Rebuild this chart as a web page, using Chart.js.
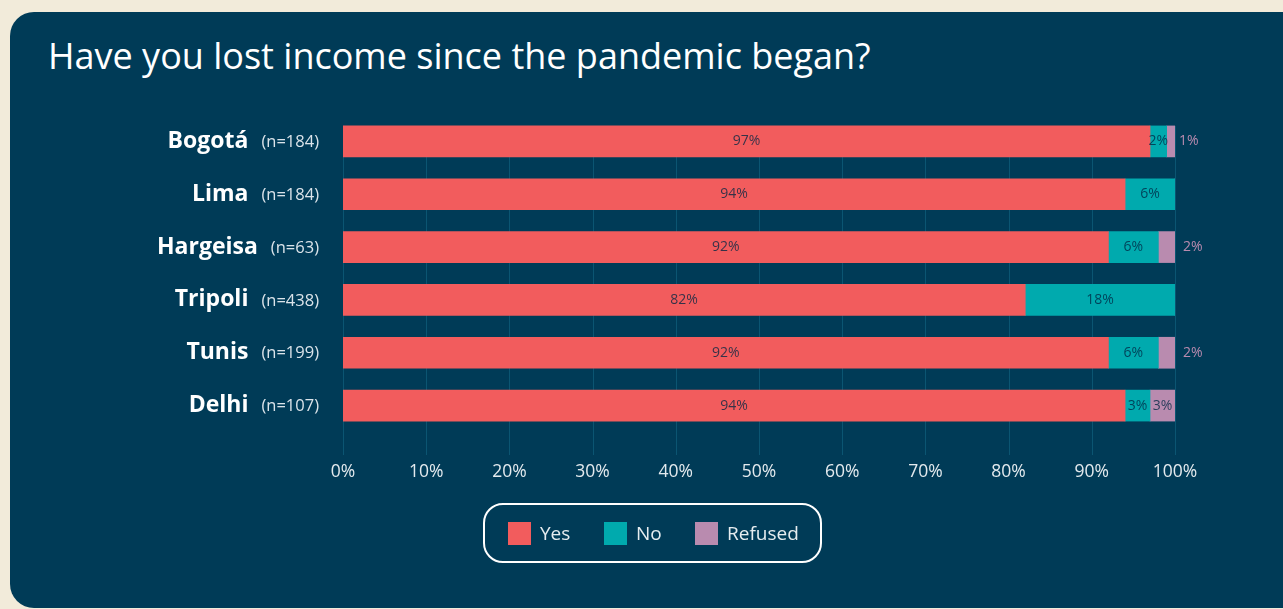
<!DOCTYPE html>
<html>
<head>
<meta charset="utf-8">
<script src="https://cdn.jsdelivr.net/npm/chart.js@4.4.1/dist/chart.umd.min.js"></script>
<style>
  html, body { margin: 0; padding: 0; }
  body { width: 1283px; height: 609px; background: #f2ebda; position: relative; overflow: hidden; font-family: "Open Sans", Lato, sans-serif; }
  #panel { position: absolute; left: 10px; top: 12px; width: 1320px; height: 596px; background: #003b57; border-radius: 24px; }
  #title { position: absolute; left: 48px; top: 31px; color: #ffffff; font-size: 36px; font-weight: 400; white-space: nowrap; }
  #chart { position: absolute; left: 0; top: 0; }
  #legend { position: absolute; left: 483px; top: 503px; width: 335px; height: 56px; border: 2px solid #ffffff; border-radius: 20px; }
  .sw { position: absolute; width: 23px; height: 23px; top: 17px; }
  .lt { position: absolute; top: 15px; color: #e6edf0; font-size: 19px; line-height: 26px; }
</style>
</head>
<body>
<div id="panel"></div>
<div id="title">Have you lost income since the pandemic began?</div>
<canvas id="chart" width="1283" height="609"></canvas>
<div id="legend"></div>
<script>
const categories = ['Bogotá', 'Lima', 'Hargeisa', 'Tripoli', 'Tunis', 'Delhi'];
const sampleSizes = ['(n=184)', '(n=184)', '(n=63)', '(n=438)', '(n=199)', '(n=107)'];
const yesValues = [97, 94, 92, 82, 92, 94];
const noValues = [2, 6, 6, 18, 6, 3];
const refusedValues = [1, 0, 2, 0, 2, 3];
const seriesNames = ['Yes', 'No', 'Refused'];
const seriesColors = ['#f25c5d', '#00aaae', '#b98baf'];
const xTickValues = [0, 10, 20, 30, 40, 50, 60, 70, 80, 90, 100];
const xTickLabels = ['0%', '10%', '20%', '30%', '40%', '50%', '60%', '70%', '80%', '90%', '100%'];

// HTML legend
const legendEl = document.getElementById('legend');
const legendPos = [[23, 55], [119, 151], [210, 242]];
seriesNames.forEach((name, i) => {
  const sw = document.createElement('div');
  sw.className = 'sw';
  sw.style.left = legendPos[i][0] + 'px';
  sw.style.background = seriesColors[i];
  legendEl.appendChild(sw);
  const t = document.createElement('div');
  t.className = 'lt';
  t.style.left = legendPos[i][1] + 'px';
  t.textContent = name;
  legendEl.appendChild(t);
});

const FONT = '"Open Sans", Lato, sans-serif';

const gridPlugin = {
  id: 'customGrid',
  beforeDatasetsDraw(chart) {
    const ctx = chart.ctx;
    const xs = chart.scales.x, ys = chart.scales.y;
    const top = ys.getPixelForValue(0) - 15.5;
    ctx.save();
    ctx.strokeStyle = '#0b5572';
    ctx.lineWidth = 1;
    xTickValues.forEach(v => {
      const x = Math.round(xs.getPixelForValue(v)) + 0.5;
      ctx.beginPath();
      ctx.moveTo(x, top);
      ctx.lineTo(x, 455);
      ctx.stroke();
    });
    // x tick labels
    ctx.fillStyle = '#e3eaee';
    ctx.font = '17.5px ' + FONT;
    ctx.textAlign = 'center';
    ctx.textBaseline = 'middle';
    xTickValues.forEach((v, i) => {
      ctx.fillText(xTickLabels[i], xs.getPixelForValue(v), 472);
    });
    ctx.restore();
  }
};

const labelPlugin = {
  id: 'segLabels',
  afterDatasetsDraw(chart) {
    const ctx = chart.ctx;
    ctx.save();
    ctx.font = '14px ' + FONT;
    ctx.textBaseline = 'middle';
    chart.data.datasets.forEach((ds, di) => {
      const meta = chart.getDatasetMeta(di);
      meta.data.forEach((el, i) => {
        const v = ds.data[i];
        if (!v) return;
        const p = el.getProps(['x', 'y', 'base'], true);
        if (di === 2 && v < 3) {
          ctx.fillStyle = seriesColors[2];
          ctx.textAlign = 'left';
          ctx.fillText(v + '%', Math.max(p.x, p.base) + 4 + (v === 1 ? 0 : 4), p.y);
        } else {
          ctx.fillStyle = 'rgba(0,38,66,0.78)';
          ctx.textAlign = 'center';
          ctx.fillText(v + '%', (p.x + p.base) / 2, p.y);
        }
      });
    });
    ctx.restore();
  }
};

const yLabelPlugin = {
  id: 'yLabels',
  afterDraw(chart) {
    const ctx = chart.ctx;
    const ys = chart.scales.y;
    ctx.save();
    ctx.textBaseline = 'middle';
    ctx.textAlign = 'right';
    categories.forEach((c, i) => {
      const y = ys.getPixelForValue(i);
      ctx.font = '16.5px ' + FONT;
      ctx.fillStyle = '#dbe4ea';
      ctx.fillText(sampleSizes[i], 319, y + 1);
      const w = ctx.measureText(sampleSizes[i]).width;
      ctx.font = 'bold 23px ' + FONT;
      ctx.fillStyle = '#ffffff';
      ctx.fillText(c, 319 - w - 13, y);
    });
    ctx.restore();
  }
};

new Chart(document.getElementById('chart'), {
  type: 'bar',
  data: {
    labels: categories,
    datasets: [
      { label: seriesNames[0], data: yesValues, backgroundColor: seriesColors[0] },
      { label: seriesNames[1], data: noValues, backgroundColor: seriesColors[1] },
      { label: seriesNames[2], data: refusedValues, backgroundColor: seriesColors[2] }
    ]
  },
  options: {
    indexAxis: 'y',
    responsive: false,
    animation: false,
    layout: { padding: { left: 343, right: 108, top: 115, bottom: 177 } },
    datasets: { bar: { barThickness: 31, borderWidth: 0 } },
    scales: {
      x: { stacked: true, min: 0, max: 100, display: false },
      y: { stacked: true, display: false }
    },
    plugins: { legend: { display: false }, tooltip: { enabled: false } }
  },
  plugins: [gridPlugin, labelPlugin, yLabelPlugin]
});
</script>
</body>
</html>
